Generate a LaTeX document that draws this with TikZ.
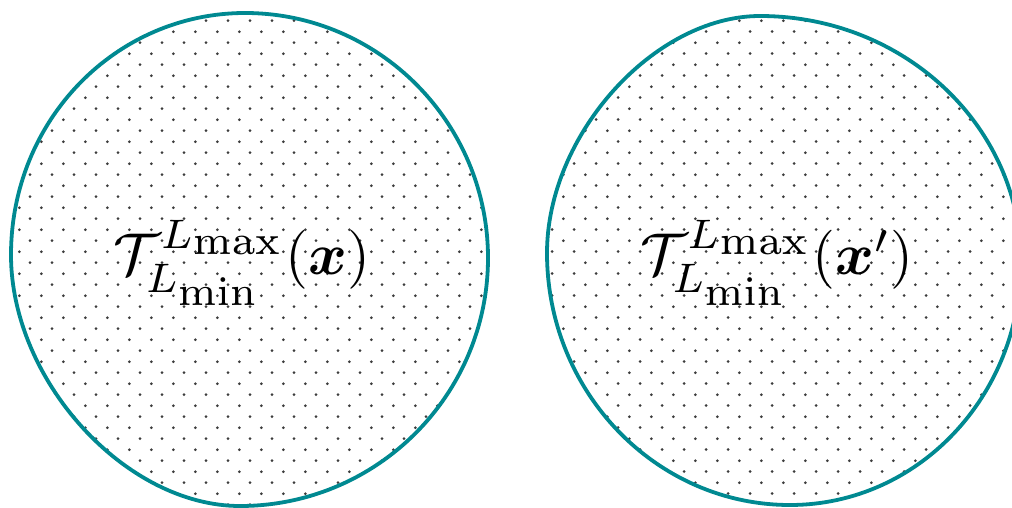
\documentclass[tikz,border=0pt]{standalone}
\usepackage{amsmath,bm}
\definecolor{tealline}{RGB}{0,137,145}
\definecolor{dotc}{RGB}{60,60,60}
\newcommand{\lblmath}[1]{\scalebox{5.9}{$\mathcal{T}_{L_{\scriptstyle\min}}^{L_{\scriptstyle\max}}(#1)$}}
\tikzset{
  blobline/.style={draw=tealline, line width=3.8pt},
  dotfill/.style={fill=dotc},
  lbl/.style={inner sep=0pt}
}
\begin{document}
\begin{tikzpicture}[x=1pt,y=-1pt]
\useasboundingbox (0,0) rectangle (1012,508);
% left blob: top (245,13), right (488,258), bottom (240,506), left (11,255)
\def\leftblob{(245,13) .. controls (379,13) and (488,123) .. (488,258)
  .. controls (488,395) and (377,506) .. (240,506)
  .. controls (125,506) and (11,380) .. (11,255)
  .. controls (11,120) and (116,13) .. (245,13) -- cycle}
% right blob: top (760,16), right (1021,262), bottom (790,505), left (547,253)
\def\rightblob{(760,16) .. controls (904,16) and (1021,126) .. (1021,262)
  .. controls (1021,396) and (918,505) .. (790,505)
  .. controls (656,505) and (547,392) .. (547,253)
  .. controls (547,135) and (654,16) .. (760,16) -- cycle}
\begin{scope}
  \clip \leftblob;
  \foreach \j in {0,...,23} {
    \foreach \i in {0,...,23} {
      \fill[dotfill] ({-2.7+22*\i}, {9.7+22*\j}) circle (1.5);
      \fill[dotfill] ({8+22*\i}, {20.7+22*\j}) circle (1.5);
    }
  }
\end{scope}
\begin{scope}
  \clip \rightblob;
  \foreach \j in {0,...,23} {
    \foreach \i in {0,...,23} {
      \fill[dotfill] ({530+22*\i}, {9.5+22*\j}) circle (1.5);
      \fill[dotfill] ({541.3+22*\i}, {20.7+22*\j}) circle (1.5);
    }
  }
\end{scope}
\draw[blobline] \leftblob;
\draw[blobline] \rightblob;
\node[lbl] (lblL) at (242,263) {\lblmath{\bm{x}}};
\node[lbl] (lblR) at (777,263) {\lblmath{\bm{x}'}};
\end{tikzpicture}
\end{document}
